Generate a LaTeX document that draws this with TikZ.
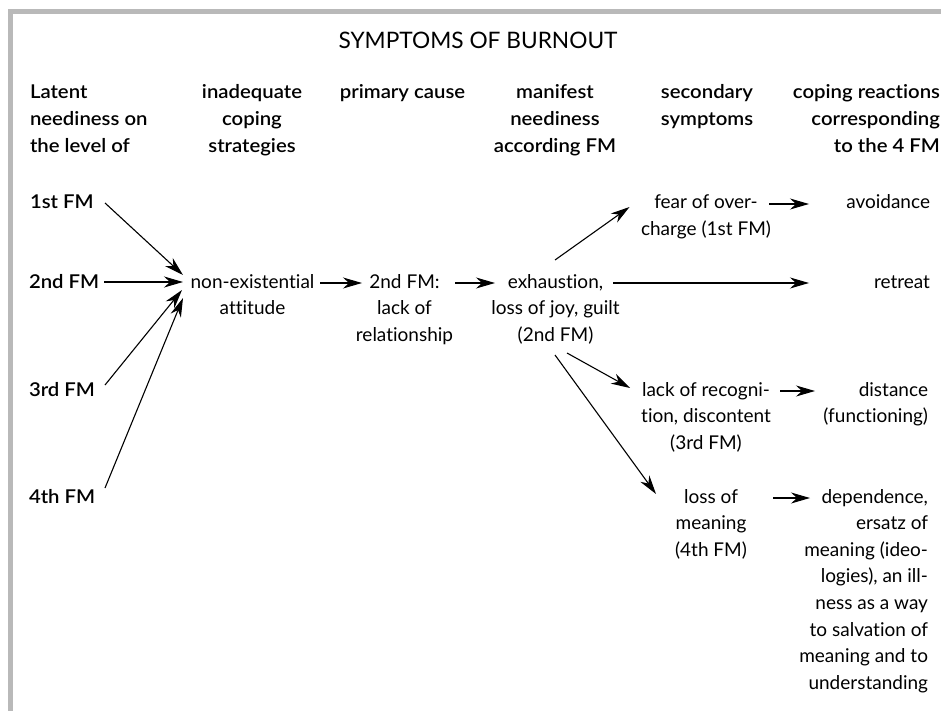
\documentclass[tikz,border=0pt]{standalone}
\usepackage{fontspec}
\setmainfont{Lato}[Ligatures=NoCommon]
\newfontfamily\headfam[FakeStretch=1.07,Ligatures=NoCommon]{Lato Semibold}
\newfontfamily\titlefam[Ligatures=NoCommon]{Lato}
\usetikzlibrary{arrows.meta,calc}

\newcommand{\bodyfnt}{\fontsize{19}{26.6}\selectfont}
\newcommand{\headfnt}{\headfam\fontsize{19}{26.6}\selectfont}
\newcommand{\titlefnt}{\titlefam\fontsize{22.7}{28}\selectfont}

% stacked lines whose baseline is the first line
\newcommand{\centerlines}[1]{\begin{tabular}[t]{@{}c@{}}#1\end{tabular}}
\newcommand{\leftlines}[1]{\begin{tabular}[t]{@{}l@{}}#1\end{tabular}}
\newcommand{\rightlines}[1]{\begin{tabular}[t]{@{}r@{}}#1\end{tabular}}

\tikzset{
  txt/.style={inner sep=0pt, outer sep=0pt, font=\bodyfnt},
  head/.style={inner sep=0pt, outer sep=0pt, font=\headfnt},
  arr/.style={-{Stealth[length=19pt,width=11pt,inset=6pt]}, line width=1.1pt},
  frameline/.style={line width=5pt, draw=gray!55}
}

\begin{document}
\begin{tikzpicture}[x=1pt,y=-1pt]
\useasboundingbox (0,0) rectangle (941,711);

% grey frame along the top and left edges
\draw[frameline] (10,711) -- (10,11.5) -- (941,11.5);

% title
\node[inner sep=0pt, anchor=base, font=\titlefnt] (title) at (478,49) {SYMPTOMS OF BURNOUT};

% column headings
\node[head, anchor=base west] (h1) at (30,99) {\leftlines{Latent\\neediness on\\the level of}};
\node[head, anchor=base] (h2) at (252,99) {\centerlines{inadequate\\coping\\strategies}};
\node[head, anchor=base] (h3) at (402.5,99) {primary cause};
\node[head, anchor=base] (h4) at (555,99) {\centerlines{manifest\\neediness\\according FM}};
\node[head, anchor=base] (h5) at (707,99) {\centerlines{secondary\\symptoms}};
\node[head, anchor=base east] (h6) at (940,99) {\rightlines{coping reactions\\corresponding\\to the 4 FM}};

% fundamental motivations
\node[head, anchor=base west] (fm1) at (30,209) {1st FM};
\node[head, anchor=base west] (fm2) at (29,288) {2nd FM};
\node[head, anchor=base west] (fm3) at (29,396) {3rd FM};
\node[head, anchor=base west] (fm4) at (29,503) {4th FM};

% chain of causes and symptoms
\node[txt, anchor=base] (nonex) at (252.5,288) {\centerlines{non-existential\\attitude}};
\node[txt, anchor=base] (lackrel) at (404.5,288) {\centerlines{2nd FM:\\lack of\\relationship}};
\node[txt, anchor=base] (exh) at (555.5,288) {\centerlines{exhaustion,\\loss of joy, guilt\\(2nd FM)}};
\node[txt, anchor=base] (fear) at (706,209) {\centerlines{fear of over-\\charge (1st FM)}};
\node[txt, anchor=base] (recog) at (706,396) {\centerlines{lack of recogni-\\tion, discontent\\(3rd FM)}};
\node[txt, anchor=base] (meaning) at (711,503) {\centerlines{loss of\\meaning\\(4th FM)}};

% coping reactions
\node[txt, anchor=base east] (avoid) at (930,209) {avoidance};
\node[txt, anchor=base east] (retreat) at (930,288) {retreat};
\node[txt, anchor=base east] (dist) at (928,396) {\rightlines{distance\\(functioning)}};
\node[txt, anchor=base east] (depend) at (928,503)
  {\rightlines{dependence,\\ersatz of\\meaning (ideo-\\logies), an ill-\\ness as a way\\to salvation of\\meaning and to\\understanding}};

% arrows into the non-existential attitude
\draw[arr] ($(fm1.base west)+(75,-6)$) -- ($(nonex.base)+(-69.5,-13)$);
\draw[arr] ($(fm2.base west)+(75,-6)$) -- ($(nonex.base)+(-69.5,-6)$);
\draw[arr] ($(fm3.base west)+(76,-11)$) -- ($(nonex.base)+(-70.5,2)$);
\draw[arr] ($(fm4.base west)+(76,-15)$) -- ($(nonex.base)+(-69.5,10)$);

% main chain
\draw[arr] ($(nonex.base)+(67.5,-5)$) -- ($(lackrel.base)+(-42.5,-5)$);
\draw[arr] ($(lackrel.base)+(50.5,-5)$) -- ($(exh.base)+(-60.5,-5)$);

% branches to the secondary symptoms
\draw[arr] ($(exh.base)+(-0.5,-28)$) -- ($(fear.base)+(-76.5,-2)$);
\draw[arr] ($(exh.base)+(57.5,-5)$) -- ($(retreat.base east)+(-121,-5)$);
\draw[arr] ($(exh.base)+(11.5,65)$) -- ($(recog.base)+(-76,-8)$);
\draw[arr] ($(exh.base)+(-0.5,67)$) -- ($(meaning.base)+(-55,-9)$);

% secondary symptoms to coping reactions
\draw[arr] ($(fear.base)+(63,-5)$) -- ($(avoid.base east)+(-121,-5)$);
\draw[arr] ($(recog.base)+(74,-5)$) -- ($(dist.base east)+(-113,-5)$);
\draw[arr] ($(meaning.base)+(62,-5)$) -- ($(depend.base east)+(-118,-5)$);
\end{tikzpicture}
\end{document}
